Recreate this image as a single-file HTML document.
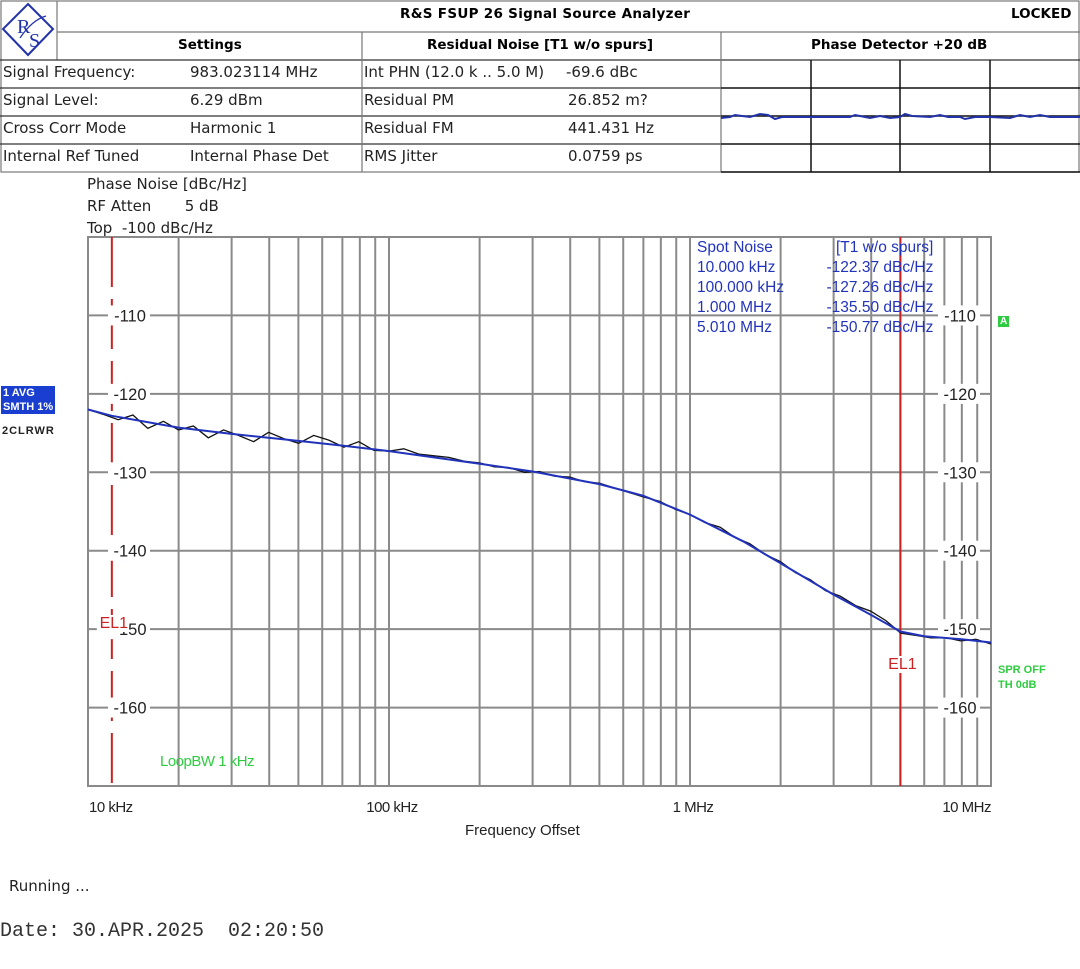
<!DOCTYPE html>
<html><head><meta charset="utf-8">
<style>
body{margin:0;background:#fff;width:1080px;height:969px;overflow:hidden;position:relative;font-family:"DejaVu Sans","Liberation Sans",sans-serif;}
.t{position:absolute;white-space:nowrap;}
.hd{font-size:15px;color:#222;}
.b{font-weight:bold;font-size:13.5px;}
</style></head><body>
<svg width="1080" height="969" style="position:absolute;left:0;top:0">
  <g stroke="#777" stroke-width="1.2" fill="none">
    <rect x="1" y="1" width="1078" height="171"/>
    <line x1="57" y1="32" x2="1080" y2="32"/>
    <line x1="57" y1="1" x2="57" y2="60"/>
    <line x1="0" y1="60" x2="1080" y2="60" stroke="#333"/>
    <line x1="0" y1="88" x2="721" y2="88" stroke="#333"/>
    <line x1="0" y1="116" x2="721" y2="116" stroke="#333"/>
    <line x1="0" y1="144" x2="721" y2="144" stroke="#333"/>
    <line x1="362" y1="32" x2="362" y2="172"/>
    <line x1="721" y1="32" x2="721" y2="172"/>
  </g>
  <g stroke="#111" stroke-width="1.5">
    <line x1="721" y1="88" x2="1080" y2="88"/>
    <line x1="721" y1="116" x2="1080" y2="116"/>
    <line x1="721" y1="144" x2="1080" y2="144"/>
    <line x1="721" y1="172" x2="1080" y2="172"/>
    <line x1="811" y1="60" x2="811" y2="172"/>
    <line x1="900" y1="60" x2="900" y2="172"/>
    <line x1="990" y1="60" x2="990" y2="172"/>
    <polyline fill="none" stroke="#2233aa" stroke-width="2" points="721,118 730,117 735,115 742,116 750,117 760,114 768,115 775,119 782,117 790,117 800,117 850,117 855,115 860,116 870,118 880,116 890,118 900,117 905,114 912,116 930,117 940,115 948,117 960,117 965,119 975,117 990,117 1010,118 1020,115 1030,117 1040,115 1050,117 1080,117"/>
  </g>
  <g>
    <polygon points="28,4 53,29 28,55 3,29" fill="none" stroke="#2233aa" stroke-width="2"/>
    <text x="17" y="33" font-family="Liberation Serif" font-size="20" fill="#2233aa">R</text>
    <text x="29" y="47" font-family="Liberation Serif" font-size="20" fill="#2233aa">S</text>
    <path d="M20,38 Q32,20 46,16" stroke="#2233aa" fill="none" stroke-width="1.2"/>
  </g>
  <g id="chart"></g>
</svg>

<div class="t b" style="left:400px;top:6px;letter-spacing:0.3px">R&amp;S FSUP 26 Signal Source Analyzer</div>
<div class="t b" style="left:1011px;top:6px">LOCKED</div>
<div class="t b" style="left:178px;top:37px">Settings</div>
<div class="t b" style="left:427px;top:37px">Residual Noise [T1 w/o spurs]</div>
<div class="t b" style="left:811px;top:37px">Phase Detector +20 dB</div>

<div class="t hd" style="left:3px;top:63px">Signal Frequency:</div>
<div class="t hd" style="left:190px;top:63px">983.023114 MHz</div>
<div class="t hd" style="left:3px;top:91px">Signal Level:</div>
<div class="t hd" style="left:190px;top:91px">6.29 dBm</div>
<div class="t hd" style="left:3px;top:119px">Cross Corr Mode</div>
<div class="t hd" style="left:190px;top:119px">Harmonic 1</div>
<div class="t hd" style="left:3px;top:147px">Internal Ref Tuned</div>
<div class="t hd" style="left:190px;top:147px">Internal Phase Det</div>

<div class="t hd" style="left:364px;top:63px">Int PHN (12.0 k .. 5.0 M)</div>
<div class="t hd" style="left:566px;top:63px">-69.6 dBc</div>
<div class="t hd" style="left:364px;top:91px">Residual PM</div>
<div class="t hd" style="left:568px;top:91px">26.852 m?</div>
<div class="t hd" style="left:364px;top:119px">Residual FM</div>
<div class="t hd" style="left:568px;top:119px">441.431 Hz</div>
<div class="t hd" style="left:364px;top:147px">RMS Jitter</div>
<div class="t hd" style="left:568px;top:147px">0.0759 ps</div>

<div class="t hd" style="left:87px;top:175px">Phase Noise [dBc/Hz]</div>
<div class="t hd" style="left:87px;top:197px">RF Atten&nbsp;&nbsp;&nbsp;&nbsp;&nbsp;&nbsp;&nbsp;5 dB</div>
<div class="t hd" style="left:87px;top:219px">Top&nbsp; -100 dBc/Hz</div>

<div class="t" style="left:1px;top:386px;background:#1a3fd0;color:#fff;font:bold 11px 'Liberation Sans',sans-serif;line-height:14px;padding:0 2px">1 AVG<br>SMTH 1%</div>
<div class="t" style="left:2px;top:425px;font:bold 11px 'Liberation Sans',sans-serif;color:#222;letter-spacing:1px">2CLRWR</div>
<div class="t" style="left:998px;top:316px;background:#2ecc40;color:#fff;font:bold 10px 'Liberation Sans',sans-serif;padding:0 2px">A</div>
<div class="t" style="left:998px;top:663px;color:#2ecc40;font:bold 11px 'Liberation Sans',sans-serif;line-height:15px">SPR OFF<br>TH 0dB</div>
<div class="t" style="left:160px;top:753px;color:#2ecc40;font:15px 'Liberation Sans',sans-serif;letter-spacing:-0.5px">LoopBW 1 kHz</div>

<div class="t" style="left:697px;top:238px;color:#2233bb;font:15.5px 'Liberation Sans',sans-serif;line-height:20px">Spot Noise<br>10.000 kHz<br>100.000 kHz<br>1.000 MHz<br>5.010 MHz</div>
<div class="t" style="left:826px;top:238px;color:#2233bb;font:15.5px 'Liberation Sans',sans-serif;line-height:20px;text-align:right"><span style="padding-left:10px">[T1 w/o spurs]</span><br>-122.37 dBc/Hz<br>-127.26 dBc/Hz<br>-135.50 dBc/Hz<br>-150.77 dBc/Hz</div>

<div class="t" style="left:465px;top:822px;font:15px 'Liberation Sans',sans-serif;color:#222">Frequency Offset</div>
<div class="t" style="left:9px;top:877px;font:15px 'DejaVu Sans',sans-serif;color:#222">Running ...</div>
<div class="t" style="left:0px;top:920px;font:20px 'Liberation Mono',monospace;color:#333">Date: 30.APR.2025&nbsp;&nbsp;02:20:50</div>

<script>
const yTicks=[-110,-120,-130,-140,-150,-160];
const xTickFreqs=[1e4,1e5,1e6,1e7];
const xTickLabels=["10 kHz","100 kHz","1 MHz","10 MHz"];
const elFreqs=[1.2e4,5.0e6];
const blueFreqs=[1e4,1.2e4,2e4,3e4,5e4,7e4,1e5,2e5,3e5,5e5,7e5,1e6,1.5e6,2e6,3e6,4e6,5e6,6e6,8e6,1e7];
const blueVals=[-122.0,-122.8,-124.3,-125.1,-126.0,-126.6,-127.3,-128.9,-129.9,-131.5,-133.0,-135.4,-138.8,-141.6,-145.6,-148.2,-150.3,-150.9,-151.3,-151.7];
const blackFreqs=[1e4,1.12e4,1.26e4,1.41e4,1.58e4,1.78e4,2e4,2.24e4,2.51e4,2.82e4,3.16e4,3.55e4,3.98e4,4.47e4,5.01e4,5.62e4,6.31e4,7.08e4,7.94e4,8.91e4,1e5,1.12e5,1.26e5,1.41e5,1.58e5,1.78e5,2e5,2.24e5,2.51e5,2.82e5,3.16e5,3.55e5,3.98e5,4.47e5,5.01e5,5.62e5,6.31e5,7.08e5,7.94e5,8.91e5,1e6,1.12e6,1.26e6,1.41e6,1.58e6,1.78e6,2e6,2.24e6,2.51e6,2.82e6,3.16e6,3.55e6,3.98e6,4.47e6,5.01e6,5.62e6,6.31e6,7.08e6,7.94e6,8.91e6,1e7];
const blackVals=[-122.0,-122.6,-123.3,-122.7,-124.4,-123.5,-124.6,-124.1,-125.6,-124.6,-125.3,-126.1,-124.9,-125.7,-126.3,-125.3,-125.9,-126.8,-126.1,-127.2,-127.3,-127.0,-127.7,-127.9,-128.1,-128.6,-128.8,-129.3,-129.4,-130.0,-129.9,-130.5,-130.6,-131.2,-131.4,-132.0,-132.6,-133.2,-133.7,-134.7,-135.4,-136.4,-137.0,-138.3,-139.1,-140.5,-141.4,-142.8,-143.7,-145.1,-145.8,-147.0,-147.7,-148.9,-150.5,-150.8,-151.1,-151.1,-151.5,-151.3,-151.9];

const X0=88,X1=991,Y0=237,Y1=786,FMIN=1e4,DEC=3,DBTOP=-100,DBBOT=-170;
function xs(f){return X0+(X1-X0)*Math.log10(f/FMIN)/DEC;}
function ys(v){return Y0+(Y1-Y0)*(DBTOP-v)/(DBTOP-DBBOT);}
const NS="http://www.w3.org/2000/svg";
const g=document.getElementById('chart');
function mk(tag,attrs,parent){const e=document.createElementNS(NS,tag);for(const k in attrs)e.setAttribute(k,attrs[k]);(parent||g).appendChild(e);return e;}

const grid=mk('g',{stroke:'#8a8a8a','stroke-width':'2',fill:'none'});


mk('rect',{x:X0,y:Y0,width:X1-X0,height:Y1-Y0},grid);
for(let d=0;d<DEC;d++){for(let m=2;m<=9;m++){const x=xs(FMIN*Math.pow(10,d)*m);const l=mk('line',{x1:x,y1:Y0,x2:x,y2:Y1},grid);}}
xTickFreqs.forEach(f=>{const x=xs(f);const l=mk('line',{x1:x,y1:Y0,x2:x,y2:Y1},grid);});
for(let v=-110;v>=-160;v-=10){const l=mk('line',{x1:X0,y1:ys(v),x2:X1,y2:ys(v)},grid);}

const elL=mk('line',{x1:xs(elFreqs[0]),y1:Y0,x2:xs(elFreqs[0]),y2:Y1,stroke:'#cc2222','stroke-width':'2','stroke-dasharray':'50,12'});


const elR=mk('line',{x1:xs(elFreqs[1]),y1:Y0,x2:xs(elFreqs[1]),y2:Y1,stroke:'#cc2222','stroke-width':'2'});



yTicks.forEach(v=>{[128,958].forEach((cx,i)=>{
  const r=mk('rect',{x:cx-20,y:ys(v)-10,width:42,height:20,fill:'#fff'});
  
  const t=mk('text',{x:cx+2,y:ys(v)+6,'text-anchor':'middle','font-family':'Liberation Sans','font-size':'16.5',fill:'#222'});
  t.textContent=String(v);
  
  
});});
[[xs(elFreqs[0]),628],[xs(elFreqs[1]),669]].forEach((p,i)=>{
  const r=mk('rect',{x:p[0]-15,y:p[1]-13,width:30,height:17,fill:'#fff'});
  
  const t=mk('text',{x:p[0]+2,y:p[1],'text-anchor':'middle','font-family':'Liberation Sans','font-size':'16',fill:'#cc2222'});
  t.textContent='EL1';
  
  
});
xTickFreqs.forEach((f,i)=>{
  const anchor=i==0?'start':(i==3?'end':'middle');
  const x=i==0?X0+1:(i==3?X1:xs(f)+3);
  const t=mk('text',{x:x,y:812,'text-anchor':anchor,'font-family':'Liberation Sans','font-size':'15',fill:'#222','letter-spacing':'-0.5'});
  t.textContent=xTickLabels[i];
  
  
});
const black=mk('polyline',{fill:'none',stroke:'#111','stroke-width':'1.3',points:blackFreqs.map((f,i)=>xs(f).toFixed(1)+','+ys(blackVals[i]).toFixed(1)).join(' ')});


const blue=mk('polyline',{fill:'none',stroke:'#2233bb','stroke-width':'2',points:blueFreqs.map((f,i)=>xs(f).toFixed(1)+','+ys(blueVals[i]).toFixed(1)).join(' ')});


</script>
</body></html>
